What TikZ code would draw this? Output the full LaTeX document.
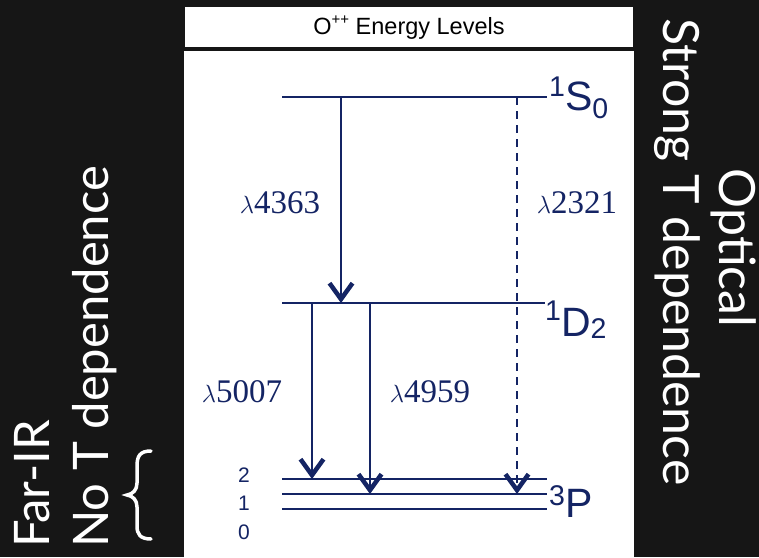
\documentclass[tikz,border=0pt]{standalone}
\usepackage{fontspec}
\setmainfont{Liberation Sans}
\newfontfamily\serifnum{Liberation Serif}
\newfontfamily\thinfont{Lato}
\usetikzlibrary{arrows.meta}
\definecolor{bg}{RGB}{22,22,22}
\definecolor{navy}{RGB}{20,36,100}
\begin{document}
\begin{tikzpicture}[x=1pt,y=-1pt,
  level/.style={draw=navy,line width=2.3pt},
  trans/.style={draw=navy,line width=2pt,-{Straight Barb[length=16pt,width=23pt,line width=4.5pt]}},
  forbid/.style={trans,dash pattern=on 8pt off 6pt},
  lam/.style={text=navy,inner sep=0pt,font=\fontsize{33}{33}\selectfont\serifnum},
  lvl/.style={text=navy,inner sep=0pt,anchor=base west,font=\fontsize{41}{41}\selectfont},
  jnum/.style={text=navy,inner sep=0pt,font=\fontsize{21}{21}\selectfont},
  side/.style={text=white,inner sep=0pt,font=\fontsize{49}{49}\selectfont\thinfont},
  sider/.style={side,font=\fontsize{50}{50}\selectfont\thinfont},
  title/.style={text=black,inner sep=0pt,font=\fontsize{23.5}{23.5}\selectfont}]
\useasboundingbox (0,0) rectangle (759,557);
\fill[bg] (0,0) rectangle (759,557);
\fill[white] (185,7) rectangle (633,47);
\fill[white] (184,51) rectangle (634,557);
\node[title] (title) at (409,28) {O\raisebox{0.42em}{\fontsize{15}{15}\selectfont ++} Energy Levels};
% levels
\coordinate (S0L) at (282,97);  \coordinate (S0R) at (547,97);
\coordinate (D2L) at (282,303); \coordinate (D2R) at (545,303);
\coordinate (P2L) at (282,479); \coordinate (P2R) at (547,479);
\coordinate (P1L) at (282,494); \coordinate (P1R) at (547,494);
\coordinate (P0L) at (282,509); \coordinate (P0R) at (547,509);
\draw[level] (S0L) -- (S0R);
\draw[level] (D2L) -- (D2R);
\draw[level] (P2L) -- (P2R);
\draw[level] (P1L) -- (P1R);
\draw[level] (P0L) -- (P0R);
% transitions
\coordinate (a1s) at (341,97);  \coordinate (a1e) at (341,303);
\coordinate (a2s) at (312,303); \coordinate (a2e) at (312,479);
\coordinate (a3s) at (370,303); \coordinate (a3e) at (370,494);
\coordinate (a4s) at (517,97);  \coordinate (a4e) at (517,494);
\draw[trans] (a1s) -- (a1e);
\draw[trans] (a2s) -- (a2e);
\draw[trans] (a3s) -- (a3e);
\draw[forbid] (a4s) -- (a4e);
% wavelength labels
\node[lam] (l4363) at (280,203) {$\lambda$4363};
\node[lam] (l2321) at (577,203) {$\lambda$2321};
\node[lam] (l5007) at (242,392) {$\lambda$5007};
\node[lam] (l4959) at (430,392) {$\lambda$4959};
% term labels
\node[lvl] (tS) at (549,110) {\raisebox{14pt}{\fontsize{28.5}{28.5}\selectfont 1}S\raisebox{-8pt}{\fontsize{28.5}{28.5}\selectfont 0}};
\node[lvl] (tD) at (545,336) {\raisebox{16pt}{\fontsize{28.5}{28.5}\selectfont 1}D\raisebox{-2pt}{\fontsize{28.5}{28.5}\selectfont 2}};
\node[lvl] (tP) at (549,517) {\raisebox{12pt}{\fontsize{28.5}{28.5}\selectfont 3}P};
\node[jnum] (j2) at (244,475) {2};
\node[jnum] (j1) at (244,503) {1};
\node[jnum] (j0) at (244,532) {0};
% side texts
\node[side,rotate=90,anchor=base west] (farir) at (49,548) {Far-IR};
\node[side,rotate=90,anchor=base west] (noT) at (108,548) {No T dependence};
\node[sider,rotate=-90,anchor=base west] (strong) at (663,18) {Strong T dependence};
\node[sider,rotate=-90,anchor=base] (optical) at (719,248) {Optical};
\draw[white,line width=3.5pt,line cap=round]
  (151,451) .. controls (140,451) and (137,456) .. (137,466) -- (137,483)
  .. controls (137,490) and (133,494) .. (127,495)
  .. controls (133,496) and (137,500) .. (137,507) -- (137,526)
  .. controls (137,534) and (140,539) .. (151,539);
\end{tikzpicture}
\end{document}
